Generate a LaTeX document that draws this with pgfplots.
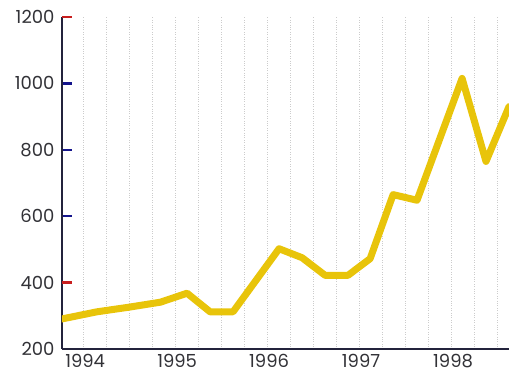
\documentclass[border=0pt]{standalone}
\usepackage{fontspec}
\setmainfont{Poppins}
\usepackage{pgfplots}
\pgfplotsset{compat=1.18}
\definecolor{linegold}{RGB}{232,196,10}
\definecolor{axisnavy}{RGB}{35,35,60}
\definecolor{tickblue}{RGB}{20,20,140}
\definecolor{tickred}{RGB}{200,30,30}
\definecolor{labelgray}{RGB}{50,50,55}
\begin{document}
\begin{tikzpicture}
\useasboundingbox (-62pt,-25pt) rectangle (447pt,349pt);
\begin{axis}[
  at={(0pt,0pt)}, anchor=south west,
  scale only axis,
  width=447pt, height=332pt,
  xmin=1993.77, xmax=1998.63,
  ymin=200, ymax=1200,
  axis x line=bottom, axis y line=left,
  axis line style={-, line width=2pt, color=axisnavy},
  xtick={1994,1995,1996,1997,1998},
  minor xtick={1994.25,1994.5,1994.75,1995.25,1995.5,1995.75,1996.25,1996.5,1996.75,1997.25,1997.5,1997.75,1998.25,1998.5},
  xticklabels={1994,1995,1996,1997,1998},
  xtick style={draw=none},
  minor x tick style={draw=none},
  xmajorgrids, xminorgrids,
  major grid style={dotted, gray!40, line width=0.6pt},
  minor grid style={dotted, gray!40, line width=0.6pt},
  ytick={200,600,800,1000},
  extra y ticks={400,1200},
  extra y tick style={ytick style={line width=2.4pt, color=tickred, /pgfplots/major tick length=10pt}, grid=none},
  ytick style={line width=2.4pt, color=tickblue, /pgfplots/major tick length=10pt},
  ytick align=inside,
  /pgf/number format/assume math mode=true,
  /pgf/number format/1000 sep={},
  tick label style={font=\fontsize{18}{18}\selectfont, text=labelgray},
  yticklabel style={xshift=-4pt},
  xticklabel style={inner sep=0pt, text depth=0pt, yshift=-3pt, xshift=2pt},
  clip=true,
]
\addplot[linegold, line width=7pt, line join=round, line cap=round] coordinates {
  (1993.76,290) (1994.15,312) (1994.50,326) (1994.84,341) (1995.13,368)
  (1995.38,312) (1995.63,312) (1996.13,502) (1996.38,475) (1996.63,422)
  (1996.88,422) (1997.12,472) (1997.37,665) (1997.63,648) (1998.12,1015)
  (1998.38,765) (1998.63,930)
};
\end{axis}
\end{tikzpicture}
\end{document}
